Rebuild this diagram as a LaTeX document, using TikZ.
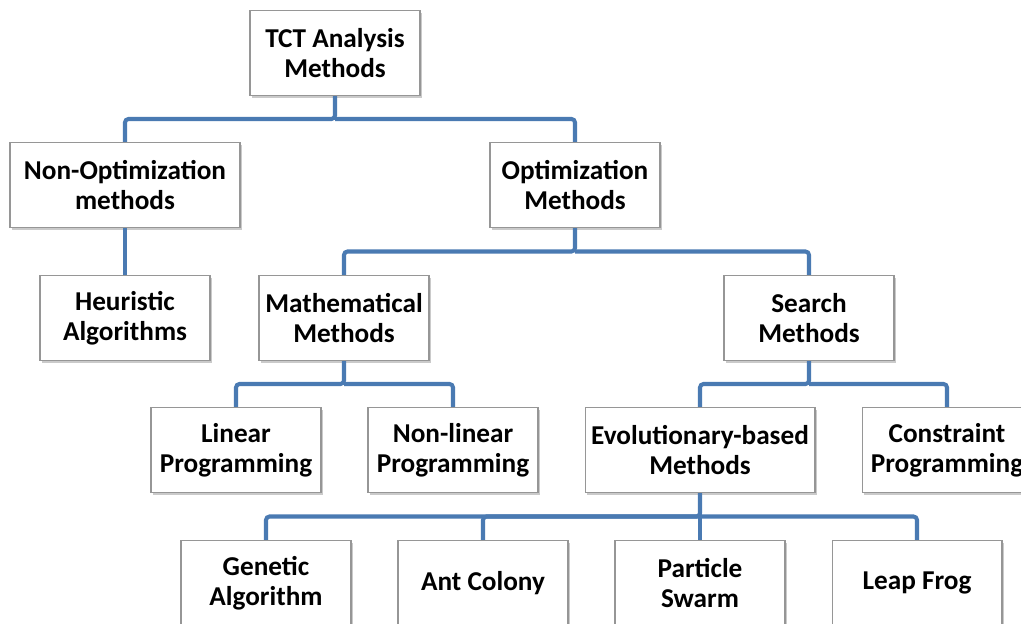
\documentclass[tikz,border=0pt]{standalone}
\usepackage{fontspec}
\setmainfont{Carlito}
\usetikzlibrary{calc, shadows}
\definecolor{linkblue}{RGB}{74,122,178}
\definecolor{boxgray}{RGB}{150,150,150}

\begin{document}
\begin{tikzpicture}[x=0.02cm, y=-0.02cm,
  box/.style={draw=boxgray, fill=white, line width=0.6pt, minimum width=3.4cm, minimum height=1.7cm, inner sep=1pt, align=center, font=\fontsize{15.5}{17}\selectfont\bfseries, drop shadow={shadow xshift=1.2pt, shadow yshift=-1.5pt, fill=black!60, opacity=0.35}},
  wide/.style={box, minimum width=4.6cm},
  link/.style={draw=linkblue, line width=2.3pt, rounded corners=2pt}]
  \clip (0,0) rectangle (1021,624);
  % levels
  \node[box] (tct) at (335,53) {TCT Analysis\\Methods};
  \node[wide] (nonopt) at (125,185) {Non-Optimization\\methods};
  \node[box] (opt) at (575,185) {Optimization\\Methods};
  \node[box] (heur) at (125,318) {Heuristic\\Algorithms};
  \node[box] (math) at (344,318) {Mathematical\\Methods};
  \node[box] (search) at (809,318) {Search\\Methods};
  \node[box] (lin) at (236,450) {Linear\\Programming};
  \node[box] (nonlin) at (453,450) {Non-linear\\Programming};
  \node[wide] (evo) at (700,450) {Evolutionary-based\\Methods};
  \node[box] (constr) at (947,450) {Constraint\\Programming};
  \node[box] (gen) at (266,583) {Genetic\\Algorithm};
  \node[box] (ant) at (483,583) {Ant Colony};
  \node[box] (pso) at (700,583) {Particle\\Swarm};
  \node[box] (frog) at (917,583) {Leap Frog};
  % connectors
  \coordinate (b1) at ($(tct.south)!0.5!(opt.north)$);
  \draw[link] (tct.south) -- (tct.south |- b1) -| (nonopt.north);
  \draw[link] (tct.south |- b1) -| (opt.north);
  \draw[link] (nonopt.south) -- (heur.north);
  \coordinate (b2) at ($(opt.south)!0.5!(math.north)$);
  \draw[link] (opt.south) -- (opt.south |- b2) -| (math.north);
  \draw[link] (opt.south |- b2) -| (search.north);
  \coordinate (b3) at ($(math.south)!0.5!(lin.north)$);
  \draw[link] (math.south) -- (math.south |- b3) -| (lin.north);
  \draw[link] (math.south |- b3) -| (nonlin.north);
  \draw[link] (search.south) -- (search.south |- b3) -| (evo.north);
  \draw[link] (search.south |- b3) -| (constr.north);
  \coordinate (b4) at ($(evo.south)!0.5!(gen.north)$);
  \draw[link] (evo.south) -- (evo.south |- b4) -| (gen.north);
  \draw[link] (evo.south |- b4) -| (ant.north);
  \draw[link] (evo.south |- b4) -| (pso.north);
  \draw[link] (evo.south |- b4) -| (frog.north);
\end{tikzpicture}
\end{document}
